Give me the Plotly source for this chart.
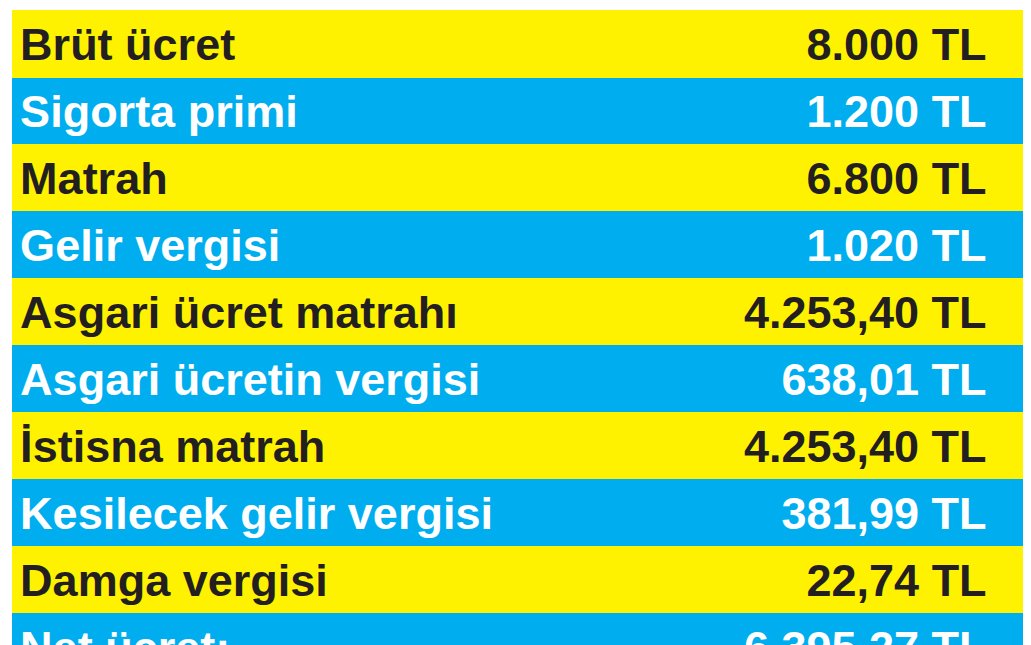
import plotly.graph_objects as go

labels = ["Brüt ücret", "Sigorta primi", "Matrah", "Gelir vergisi", "Asgari ücret matrahı",
          "Asgari ücretin vergisi", "İstisna matrah", "Kesilecek gelir vergisi", "Damga vergisi", "Net ücret:"]
values = ["8.000 TL", "1.200 TL", "6.800 TL", "1.020 TL", "4.253,40 TL",
          "638,01 TL", "4.253,40 TL", "381,99 TL", "22,74 TL", "6.395,27 TL"]

YEL = "#FFF200"
BLU = "#00AEEF"
fills = [YEL if i % 2 == 0 else BLU for i in range(len(labels))]
fcol = ["#231F20" if i % 2 == 0 else "#FFFFFF" for i in range(len(labels))]
font = dict(family="Liberation Sans Narrow, Arial Narrow, Liberation Sans", size=45)
rowh = 63.5
b = lambda s: f"<b>{s}</b>"
blank = [""] * (len(labels) - 1)

fig = go.Figure(go.Table(
    domain=dict(x=[0.004, 0.997], y=[0, 0.996]),
    columnwidth=[600, 370, 40],
    header=dict(values=[b(labels[0]), b(values[0]), ""], fill_color=YEL, line_color=YEL,
                align=["left", "right", "right"], height=rowh,
                font=dict(color=fcol[0], **font)),
    cells=dict(values=[[b(s) for s in labels[1:]], [b(s) for s in values[1:]], blank],
               fill_color=[fills[1:]] * 3,
               line_color=[fills[1:]] * 3, align=["left", "right", "right"], height=rowh,
               font=dict(color=[fcol[1:]] * 3, **font)),
))
fig.update_layout(width=1031, height=645, margin=dict(l=0, r=0, t=0, b=0),
                  paper_bgcolor="white")
fig.write_html("out.html")
